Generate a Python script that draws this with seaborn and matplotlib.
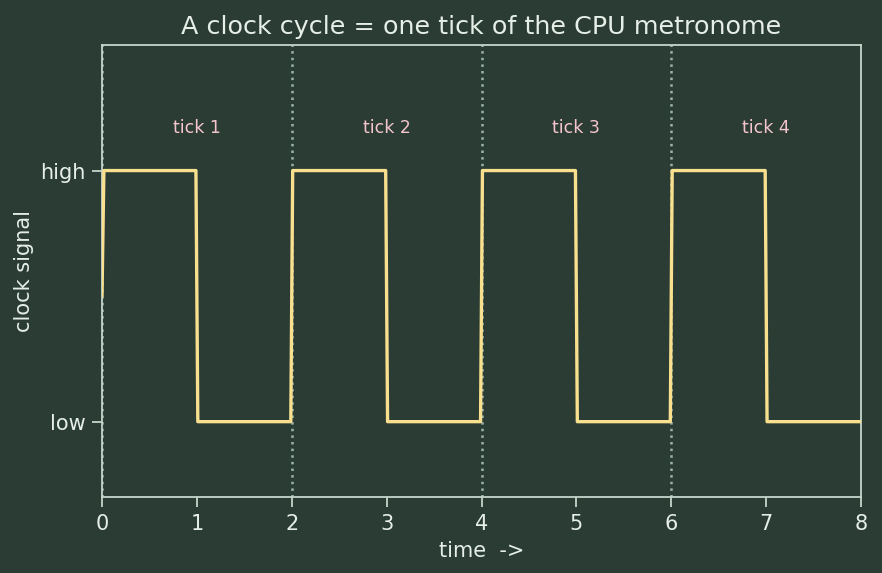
import pandas as pd
import matplotlib
matplotlib.use('Agg')
import matplotlib.pyplot as plt
import seaborn as sns

# clock signal samples
time = [0, 0.02, 0.99, 1.01, 1.99, 2.01, 2.99, 3.01, 3.99, 4.01,
        4.99, 5.01, 5.99, 6.01, 6.99, 7.01, 8]
level = [0.5, 1, 1, 0, 0, 1, 1, 0, 0, 1, 1, 0, 0, 1, 1, 0, 0]
cycle_starts = [0, 2, 4, 6]
tick_labels = ['tick 1', 'tick 2', 'tick 3', 'tick 4']
tick_centers = [1, 3, 5, 7]

bg = '#2a3c34'
fg = '#e6eee8'
spine_col = '#c5d6cb'

sns.set_style('dark')
plt.rcParams['font.family'] = ['DejaVu Sans']

df = pd.DataFrame({'time': time, 'level': level})

fig = plt.figure(figsize=(8.82, 5.73), dpi=100, facecolor=bg)
ax = fig.add_axes([102/882, 1-497/573, (861-102)/882, (497-45)/573])
ax.set_facecolor(bg)

for x in cycle_starts:
    ax.axvline(x, color='#9cb3ab', linestyle=':', linewidth=1.8, zorder=1)

sns.lineplot(data=df, x='time', y='level', sort=False, estimator=None,
             color='#f8e08e', linewidth=2.4, ax=ax, zorder=3)

for lab, xc in zip(tick_labels, tick_centers):
    ax.text(xc, 1.17, lab, color='#f5c5cd', fontsize=12.5,
            ha='center', va='center')

ax.set_xlim(0, 8)
ax.set_ylim(-0.3, 1.5)
ax.set_xticks(range(0, 9))
ax.set_yticks([0, 1])
ax.set_yticklabels(['low', 'high'])
ax.set_xlabel('time  ->', color=fg, fontsize=15, labelpad=5)
ax.set_ylabel('clock signal', color=fg, fontsize=15, labelpad=4)
ax.set_title('A clock cycle = one tick of the CPU metronome', color=fg,
             fontsize=18.3, pad=8)
ax.tick_params(colors=fg, labelsize=15, length=7, width=1.3, pad=5,
               bottom=True, left=True, color=spine_col)
ax.grid(False)
for s in ax.spines.values():
    s.set_visible(True)
    s.set_color(spine_col)
    s.set_linewidth(1.3)

fig.savefig('out.png', dpi=100, facecolor=bg)
